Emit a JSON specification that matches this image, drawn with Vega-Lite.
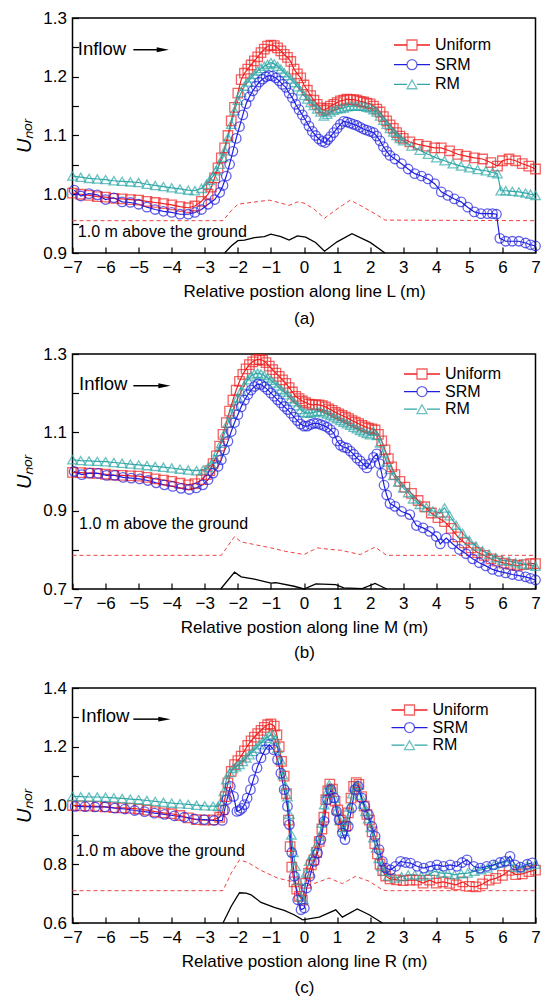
{
"$schema": "https://vega.github.io/schema/vega-lite/v6.json",
"padding": {"top": 8, "left": 13.5, "right": 1, "bottom": 2},
"spacing": 17,
"resolve": {"legend": {"color": "independent", "shape": "independent", "stroke": "independent"}},
"config": {
  "font": "Liberation Sans",
  "view": {"stroke": "black", "strokeWidth": 1.5},
  "axis": {"domain": false, "grid": false, "tickColor": "black", "tickSize": -6, "tickWidth": 1.2, "tickCount": 30, "labelFontSize": 17, "labelColor": "black", "titleFontSize": 17, "titleColor": "black", "titleFontWeight": "normal", "labelFont": "Liberation Sans", "titleFont": "Liberation Sans", "labelFlush": false, "labelOverlap": false},
  "axisY": {"titleFontSize": 20, "titleFontStyle": "italic", "titlePadding": 8, "labelPadding": 12},
  "axisX": {"labelPadding": 12, "titlePadding": 8, "titleLineHeight": 25}
},
"datasets": {
"series": [
{"p":"a","s":"Uniform","x":-7,"y":1.002},{"p":"a","s":"Uniform","x":-6.75,"y":1.0},{"p":"a","s":"Uniform","x":-6.5,"y":0.998},{"p":"a","s":"Uniform","x":-6.25,"y":0.996},{"p":"a","s":"Uniform","x":-6,"y":0.995},{"p":"a","s":"Uniform","x":-5.75,"y":0.993},{"p":"a","s":"Uniform","x":-5.5,"y":0.992},{"p":"a","s":"Uniform","x":-5.25,"y":0.991},{"p":"a","s":"Uniform","x":-5,"y":0.99},{"p":"a","s":"Uniform","x":-4.75,"y":0.988},{"p":"a","s":"Uniform","x":-4.5,"y":0.986},{"p":"a","s":"Uniform","x":-4.25,"y":0.984},{"p":"a","s":"Uniform","x":-4,"y":0.982},{"p":"a","s":"Uniform","x":-3.75,"y":0.979},{"p":"a","s":"Uniform","x":-3.5,"y":0.977},{"p":"a","s":"Uniform","x":-3.3,"y":0.98},{"p":"a","s":"Uniform","x":-3.1,"y":0.988},{"p":"a","s":"Uniform","x":-2.9,"y":1.0},{"p":"a","s":"Uniform","x":-2.8,"y":1.012},{"p":"a","s":"Uniform","x":-2.7,"y":1.028},{"p":"a","s":"Uniform","x":-2.6,"y":1.045},{"p":"a","s":"Uniform","x":-2.5,"y":1.062},{"p":"a","s":"Uniform","x":-2.4,"y":1.079},{"p":"a","s":"Uniform","x":-2.3,"y":1.1},{"p":"a","s":"Uniform","x":-2.2,"y":1.125},{"p":"a","s":"Uniform","x":-2.1,"y":1.148},{"p":"a","s":"Uniform","x":-2,"y":1.172},{"p":"a","s":"Uniform","x":-1.9,"y":1.195},{"p":"a","s":"Uniform","x":-1.8,"y":1.206},{"p":"a","s":"Uniform","x":-1.7,"y":1.213},{"p":"a","s":"Uniform","x":-1.6,"y":1.22},{"p":"a","s":"Uniform","x":-1.5,"y":1.227},{"p":"a","s":"Uniform","x":-1.4,"y":1.234},{"p":"a","s":"Uniform","x":-1.3,"y":1.241},{"p":"a","s":"Uniform","x":-1.2,"y":1.247},{"p":"a","s":"Uniform","x":-1.1,"y":1.252},{"p":"a","s":"Uniform","x":-1,"y":1.254},{"p":"a","s":"Uniform","x":-0.9,"y":1.253},{"p":"a","s":"Uniform","x":-0.8,"y":1.249},{"p":"a","s":"Uniform","x":-0.7,"y":1.244},{"p":"a","s":"Uniform","x":-0.6,"y":1.238},{"p":"a","s":"Uniform","x":-0.5,"y":1.233},{"p":"a","s":"Uniform","x":-0.4,"y":1.226},{"p":"a","s":"Uniform","x":-0.3,"y":1.213},{"p":"a","s":"Uniform","x":-0.2,"y":1.205},{"p":"a","s":"Uniform","x":-0.1,"y":1.198},{"p":"a","s":"Uniform","x":0,"y":1.186},{"p":"a","s":"Uniform","x":0.1,"y":1.177},{"p":"a","s":"Uniform","x":0.2,"y":1.168},{"p":"a","s":"Uniform","x":0.3,"y":1.16},{"p":"a","s":"Uniform","x":0.4,"y":1.153},{"p":"a","s":"Uniform","x":0.5,"y":1.147},{"p":"a","s":"Uniform","x":0.6,"y":1.143},{"p":"a","s":"Uniform","x":0.7,"y":1.146},{"p":"a","s":"Uniform","x":0.8,"y":1.15},{"p":"a","s":"Uniform","x":0.9,"y":1.153},{"p":"a","s":"Uniform","x":1,"y":1.156},{"p":"a","s":"Uniform","x":1.1,"y":1.159},{"p":"a","s":"Uniform","x":1.2,"y":1.16},{"p":"a","s":"Uniform","x":1.3,"y":1.162},{"p":"a","s":"Uniform","x":1.4,"y":1.161},{"p":"a","s":"Uniform","x":1.5,"y":1.161},{"p":"a","s":"Uniform","x":1.6,"y":1.16},{"p":"a","s":"Uniform","x":1.7,"y":1.158},{"p":"a","s":"Uniform","x":1.8,"y":1.157},{"p":"a","s":"Uniform","x":1.9,"y":1.155},{"p":"a","s":"Uniform","x":2,"y":1.154},{"p":"a","s":"Uniform","x":2.1,"y":1.15},{"p":"a","s":"Uniform","x":2.2,"y":1.145},{"p":"a","s":"Uniform","x":2.3,"y":1.14},{"p":"a","s":"Uniform","x":2.4,"y":1.132},{"p":"a","s":"Uniform","x":2.5,"y":1.125},{"p":"a","s":"Uniform","x":2.6,"y":1.118},{"p":"a","s":"Uniform","x":2.7,"y":1.112},{"p":"a","s":"Uniform","x":2.8,"y":1.105},{"p":"a","s":"Uniform","x":2.9,"y":1.099},{"p":"a","s":"Uniform","x":3,"y":1.095},{"p":"a","s":"Uniform","x":3.2,"y":1.089},{"p":"a","s":"Uniform","x":3.45,"y":1.085},{"p":"a","s":"Uniform","x":3.7,"y":1.082},{"p":"a","s":"Uniform","x":3.95,"y":1.079},{"p":"a","s":"Uniform","x":4.15,"y":1.079},{"p":"a","s":"Uniform","x":4.4,"y":1.074},{"p":"a","s":"Uniform","x":4.65,"y":1.068},{"p":"a","s":"Uniform","x":4.9,"y":1.065},{"p":"a","s":"Uniform","x":5.15,"y":1.062},{"p":"a","s":"Uniform","x":5.4,"y":1.06},{"p":"a","s":"Uniform","x":5.65,"y":1.054},{"p":"a","s":"Uniform","x":5.85,"y":1.048},{"p":"a","s":"Uniform","x":6,"y":1.057},{"p":"a","s":"Uniform","x":6.2,"y":1.06},{"p":"a","s":"Uniform","x":6.4,"y":1.057},{"p":"a","s":"Uniform","x":6.6,"y":1.052},{"p":"a","s":"Uniform","x":6.8,"y":1.048},{"p":"a","s":"Uniform","x":7,"y":1.043},
{"p":"a","s":"RM","x":-7,"y":1.031},{"p":"a","s":"RM","x":-6.75,"y":1.029},{"p":"a","s":"RM","x":-6.5,"y":1.027},{"p":"a","s":"RM","x":-6.25,"y":1.026},{"p":"a","s":"RM","x":-6,"y":1.025},{"p":"a","s":"RM","x":-5.75,"y":1.023},{"p":"a","s":"RM","x":-5.5,"y":1.022},{"p":"a","s":"RM","x":-5.25,"y":1.021},{"p":"a","s":"RM","x":-5,"y":1.02},{"p":"a","s":"RM","x":-4.75,"y":1.017},{"p":"a","s":"RM","x":-4.5,"y":1.015},{"p":"a","s":"RM","x":-4.25,"y":1.013},{"p":"a","s":"RM","x":-4,"y":1.011},{"p":"a","s":"RM","x":-3.75,"y":1.009},{"p":"a","s":"RM","x":-3.5,"y":1.007},{"p":"a","s":"RM","x":-3.3,"y":1.006},{"p":"a","s":"RM","x":-3.1,"y":1.01},{"p":"a","s":"RM","x":-2.95,"y":1.017},{"p":"a","s":"RM","x":-2.85,"y":1.024},{"p":"a","s":"RM","x":-2.75,"y":1.031},{"p":"a","s":"RM","x":-2.65,"y":1.04},{"p":"a","s":"RM","x":-2.55,"y":1.051},{"p":"a","s":"RM","x":-2.45,"y":1.063},{"p":"a","s":"RM","x":-2.4,"y":1.074},{"p":"a","s":"RM","x":-2.3,"y":1.096},{"p":"a","s":"RM","x":-2.2,"y":1.119},{"p":"a","s":"RM","x":-2.1,"y":1.142},{"p":"a","s":"RM","x":-2,"y":1.16},{"p":"a","s":"RM","x":-1.9,"y":1.173},{"p":"a","s":"RM","x":-1.8,"y":1.184},{"p":"a","s":"RM","x":-1.7,"y":1.191},{"p":"a","s":"RM","x":-1.6,"y":1.198},{"p":"a","s":"RM","x":-1.5,"y":1.204},{"p":"a","s":"RM","x":-1.4,"y":1.21},{"p":"a","s":"RM","x":-1.3,"y":1.214},{"p":"a","s":"RM","x":-1.2,"y":1.218},{"p":"a","s":"RM","x":-1.1,"y":1.221},{"p":"a","s":"RM","x":-1,"y":1.224},{"p":"a","s":"RM","x":-0.9,"y":1.222},{"p":"a","s":"RM","x":-0.8,"y":1.218},{"p":"a","s":"RM","x":-0.7,"y":1.213},{"p":"a","s":"RM","x":-0.6,"y":1.207},{"p":"a","s":"RM","x":-0.5,"y":1.202},{"p":"a","s":"RM","x":-0.4,"y":1.196},{"p":"a","s":"RM","x":-0.3,"y":1.19},{"p":"a","s":"RM","x":-0.2,"y":1.183},{"p":"a","s":"RM","x":-0.1,"y":1.176},{"p":"a","s":"RM","x":0,"y":1.168},{"p":"a","s":"RM","x":0.1,"y":1.162},{"p":"a","s":"RM","x":0.2,"y":1.156},{"p":"a","s":"RM","x":0.3,"y":1.151},{"p":"a","s":"RM","x":0.4,"y":1.145},{"p":"a","s":"RM","x":0.5,"y":1.14},{"p":"a","s":"RM","x":0.6,"y":1.133},{"p":"a","s":"RM","x":0.7,"y":1.136},{"p":"a","s":"RM","x":0.8,"y":1.14},{"p":"a","s":"RM","x":0.9,"y":1.143},{"p":"a","s":"RM","x":1,"y":1.145},{"p":"a","s":"RM","x":1.1,"y":1.146},{"p":"a","s":"RM","x":1.2,"y":1.147},{"p":"a","s":"RM","x":1.3,"y":1.149},{"p":"a","s":"RM","x":1.4,"y":1.15},{"p":"a","s":"RM","x":1.5,"y":1.15},{"p":"a","s":"RM","x":1.6,"y":1.15},{"p":"a","s":"RM","x":1.7,"y":1.15},{"p":"a","s":"RM","x":1.8,"y":1.15},{"p":"a","s":"RM","x":1.9,"y":1.148},{"p":"a","s":"RM","x":2,"y":1.147},{"p":"a","s":"RM","x":2.1,"y":1.144},{"p":"a","s":"RM","x":2.2,"y":1.14},{"p":"a","s":"RM","x":2.3,"y":1.133},{"p":"a","s":"RM","x":2.4,"y":1.126},{"p":"a","s":"RM","x":2.5,"y":1.119},{"p":"a","s":"RM","x":2.6,"y":1.112},{"p":"a","s":"RM","x":2.7,"y":1.106},{"p":"a","s":"RM","x":2.8,"y":1.1},{"p":"a","s":"RM","x":2.9,"y":1.095},{"p":"a","s":"RM","x":3,"y":1.091},{"p":"a","s":"RM","x":3.25,"y":1.082},{"p":"a","s":"RM","x":3.5,"y":1.075},{"p":"a","s":"RM","x":3.75,"y":1.068},{"p":"a","s":"RM","x":4,"y":1.062},{"p":"a","s":"RM","x":4.25,"y":1.057},{"p":"a","s":"RM","x":4.5,"y":1.052},{"p":"a","s":"RM","x":4.75,"y":1.048},{"p":"a","s":"RM","x":5,"y":1.045},{"p":"a","s":"RM","x":5.25,"y":1.042},{"p":"a","s":"RM","x":5.5,"y":1.04},{"p":"a","s":"RM","x":5.7,"y":1.037},{"p":"a","s":"RM","x":5.85,"y":1.035},{"p":"a","s":"RM","x":5.95,"y":1.006},{"p":"a","s":"RM","x":6.1,"y":1.006},{"p":"a","s":"RM","x":6.3,"y":1.005},{"p":"a","s":"RM","x":6.5,"y":1.004},{"p":"a","s":"RM","x":6.7,"y":1.002},{"p":"a","s":"RM","x":6.85,"y":1.0},{"p":"a","s":"RM","x":7,"y":0.998},
{"p":"a","s":"SRM","x":-6.95,"y":1.007},{"p":"a","s":"SRM","x":-6.75,"y":0.997},{"p":"a","s":"SRM","x":-6.5,"y":1.001},{"p":"a","s":"SRM","x":-6.25,"y":0.999},{"p":"a","s":"SRM","x":-6,"y":0.991},{"p":"a","s":"SRM","x":-5.75,"y":0.994},{"p":"a","s":"SRM","x":-5.5,"y":0.987},{"p":"a","s":"SRM","x":-5.25,"y":0.986},{"p":"a","s":"SRM","x":-5,"y":0.983},{"p":"a","s":"SRM","x":-4.75,"y":0.978},{"p":"a","s":"SRM","x":-4.5,"y":0.974},{"p":"a","s":"SRM","x":-4.25,"y":0.971},{"p":"a","s":"SRM","x":-4,"y":0.969},{"p":"a","s":"SRM","x":-3.75,"y":0.966},{"p":"a","s":"SRM","x":-3.5,"y":0.966},{"p":"a","s":"SRM","x":-3.3,"y":0.969},{"p":"a","s":"SRM","x":-3.1,"y":0.974},{"p":"a","s":"SRM","x":-2.9,"y":0.983},{"p":"a","s":"SRM","x":-2.7,"y":0.991},{"p":"a","s":"SRM","x":-2.55,"y":1.003},{"p":"a","s":"SRM","x":-2.45,"y":1.015},{"p":"a","s":"SRM","x":-2.35,"y":1.031},{"p":"a","s":"SRM","x":-2.25,"y":1.051},{"p":"a","s":"SRM","x":-2.15,"y":1.073},{"p":"a","s":"SRM","x":-2.05,"y":1.095},{"p":"a","s":"SRM","x":-1.95,"y":1.115},{"p":"a","s":"SRM","x":-1.85,"y":1.135},{"p":"a","s":"SRM","x":-1.75,"y":1.154},{"p":"a","s":"SRM","x":-1.65,"y":1.166},{"p":"a","s":"SRM","x":-1.55,"y":1.176},{"p":"a","s":"SRM","x":-1.45,"y":1.184},{"p":"a","s":"SRM","x":-1.35,"y":1.191},{"p":"a","s":"SRM","x":-1.25,"y":1.196},{"p":"a","s":"SRM","x":-1.15,"y":1.2},{"p":"a","s":"SRM","x":-1.05,"y":1.202},{"p":"a","s":"SRM","x":-0.95,"y":1.201},{"p":"a","s":"SRM","x":-0.85,"y":1.198},{"p":"a","s":"SRM","x":-0.75,"y":1.193},{"p":"a","s":"SRM","x":-0.65,"y":1.187},{"p":"a","s":"SRM","x":-0.55,"y":1.182},{"p":"a","s":"SRM","x":-0.45,"y":1.172},{"p":"a","s":"SRM","x":-0.35,"y":1.164},{"p":"a","s":"SRM","x":-0.25,"y":1.153},{"p":"a","s":"SRM","x":-0.15,"y":1.144},{"p":"a","s":"SRM","x":-0.05,"y":1.135},{"p":"a","s":"SRM","x":0.05,"y":1.126},{"p":"a","s":"SRM","x":0.15,"y":1.116},{"p":"a","s":"SRM","x":0.25,"y":1.107},{"p":"a","s":"SRM","x":0.35,"y":1.1},{"p":"a","s":"SRM","x":0.45,"y":1.094},{"p":"a","s":"SRM","x":0.55,"y":1.09},{"p":"a","s":"SRM","x":0.64,"y":1.088},{"p":"a","s":"SRM","x":0.72,"y":1.093},{"p":"a","s":"SRM","x":0.8,"y":1.098},{"p":"a","s":"SRM","x":0.9,"y":1.105},{"p":"a","s":"SRM","x":1,"y":1.112},{"p":"a","s":"SRM","x":1.1,"y":1.119},{"p":"a","s":"SRM","x":1.2,"y":1.124},{"p":"a","s":"SRM","x":1.3,"y":1.123},{"p":"a","s":"SRM","x":1.4,"y":1.121},{"p":"a","s":"SRM","x":1.5,"y":1.119},{"p":"a","s":"SRM","x":1.6,"y":1.117},{"p":"a","s":"SRM","x":1.7,"y":1.114},{"p":"a","s":"SRM","x":1.8,"y":1.111},{"p":"a","s":"SRM","x":1.9,"y":1.109},{"p":"a","s":"SRM","x":2,"y":1.107},{"p":"a","s":"SRM","x":2.1,"y":1.105},{"p":"a","s":"SRM","x":2.2,"y":1.099},{"p":"a","s":"SRM","x":2.3,"y":1.091},{"p":"a","s":"SRM","x":2.4,"y":1.081},{"p":"a","s":"SRM","x":2.5,"y":1.073},{"p":"a","s":"SRM","x":2.6,"y":1.066},{"p":"a","s":"SRM","x":2.75,"y":1.06},{"p":"a","s":"SRM","x":2.95,"y":1.052},{"p":"a","s":"SRM","x":3.15,"y":1.043},{"p":"a","s":"SRM","x":3.35,"y":1.035},{"p":"a","s":"SRM","x":3.55,"y":1.031},{"p":"a","s":"SRM","x":3.75,"y":1.026},{"p":"a","s":"SRM","x":3.95,"y":1.018},{"p":"a","s":"SRM","x":4.15,"y":1.004},{"p":"a","s":"SRM","x":4.35,"y":0.998},{"p":"a","s":"SRM","x":4.55,"y":0.992},{"p":"a","s":"SRM","x":4.75,"y":0.987},{"p":"a","s":"SRM","x":4.95,"y":0.978},{"p":"a","s":"SRM","x":5.15,"y":0.97},{"p":"a","s":"SRM","x":5.35,"y":0.967},{"p":"a","s":"SRM","x":5.55,"y":0.967},{"p":"a","s":"SRM","x":5.7,"y":0.967},{"p":"a","s":"SRM","x":5.82,"y":0.966},{"p":"a","s":"SRM","x":5.92,"y":0.925},{"p":"a","s":"SRM","x":6.1,"y":0.92},{"p":"a","s":"SRM","x":6.3,"y":0.92},{"p":"a","s":"SRM","x":6.5,"y":0.92},{"p":"a","s":"SRM","x":6.7,"y":0.917},{"p":"a","s":"SRM","x":6.85,"y":0.914},{"p":"a","s":"SRM","x":7,"y":0.912},
{"p":"b","s":"Uniform","x":-7,"y":0.998},{"p":"b","s":"Uniform","x":-6.75,"y":0.997},{"p":"b","s":"Uniform","x":-6.5,"y":0.996},{"p":"b","s":"Uniform","x":-6.25,"y":0.995},{"p":"b","s":"Uniform","x":-6,"y":0.993},{"p":"b","s":"Uniform","x":-5.75,"y":0.991},{"p":"b","s":"Uniform","x":-5.5,"y":0.99},{"p":"b","s":"Uniform","x":-5.25,"y":0.989},{"p":"b","s":"Uniform","x":-5,"y":0.988},{"p":"b","s":"Uniform","x":-4.75,"y":0.985},{"p":"b","s":"Uniform","x":-4.5,"y":0.981},{"p":"b","s":"Uniform","x":-4.25,"y":0.978},{"p":"b","s":"Uniform","x":-4,"y":0.975},{"p":"b","s":"Uniform","x":-3.75,"y":0.97},{"p":"b","s":"Uniform","x":-3.5,"y":0.966},{"p":"b","s":"Uniform","x":-3.3,"y":0.969},{"p":"b","s":"Uniform","x":-3.1,"y":0.979},{"p":"b","s":"Uniform","x":-2.95,"y":0.992},{"p":"b","s":"Uniform","x":-2.85,"y":1.002},{"p":"b","s":"Uniform","x":-2.75,"y":1.02},{"p":"b","s":"Uniform","x":-2.65,"y":1.04},{"p":"b","s":"Uniform","x":-2.55,"y":1.065},{"p":"b","s":"Uniform","x":-2.45,"y":1.095},{"p":"b","s":"Uniform","x":-2.35,"y":1.125},{"p":"b","s":"Uniform","x":-2.25,"y":1.154},{"p":"b","s":"Uniform","x":-2.15,"y":1.182},{"p":"b","s":"Uniform","x":-2.05,"y":1.208},{"p":"b","s":"Uniform","x":-1.95,"y":1.23},{"p":"b","s":"Uniform","x":-1.85,"y":1.248},{"p":"b","s":"Uniform","x":-1.75,"y":1.262},{"p":"b","s":"Uniform","x":-1.65,"y":1.273},{"p":"b","s":"Uniform","x":-1.55,"y":1.28},{"p":"b","s":"Uniform","x":-1.45,"y":1.285},{"p":"b","s":"Uniform","x":-1.35,"y":1.286},{"p":"b","s":"Uniform","x":-1.25,"y":1.284},{"p":"b","s":"Uniform","x":-1.15,"y":1.278},{"p":"b","s":"Uniform","x":-1.05,"y":1.269},{"p":"b","s":"Uniform","x":-0.95,"y":1.26},{"p":"b","s":"Uniform","x":-0.85,"y":1.251},{"p":"b","s":"Uniform","x":-0.75,"y":1.243},{"p":"b","s":"Uniform","x":-0.65,"y":1.234},{"p":"b","s":"Uniform","x":-0.55,"y":1.225},{"p":"b","s":"Uniform","x":-0.45,"y":1.214},{"p":"b","s":"Uniform","x":-0.35,"y":1.203},{"p":"b","s":"Uniform","x":-0.25,"y":1.192},{"p":"b","s":"Uniform","x":-0.15,"y":1.186},{"p":"b","s":"Uniform","x":-0.05,"y":1.18},{"p":"b","s":"Uniform","x":0.05,"y":1.176},{"p":"b","s":"Uniform","x":0.15,"y":1.172},{"p":"b","s":"Uniform","x":0.25,"y":1.17},{"p":"b","s":"Uniform","x":0.35,"y":1.171},{"p":"b","s":"Uniform","x":0.45,"y":1.17},{"p":"b","s":"Uniform","x":0.55,"y":1.168},{"p":"b","s":"Uniform","x":0.65,"y":1.165},{"p":"b","s":"Uniform","x":0.75,"y":1.16},{"p":"b","s":"Uniform","x":0.85,"y":1.156},{"p":"b","s":"Uniform","x":0.95,"y":1.151},{"p":"b","s":"Uniform","x":1.05,"y":1.147},{"p":"b","s":"Uniform","x":1.15,"y":1.143},{"p":"b","s":"Uniform","x":1.25,"y":1.139},{"p":"b","s":"Uniform","x":1.35,"y":1.135},{"p":"b","s":"Uniform","x":1.45,"y":1.13},{"p":"b","s":"Uniform","x":1.55,"y":1.126},{"p":"b","s":"Uniform","x":1.65,"y":1.122},{"p":"b","s":"Uniform","x":1.75,"y":1.118},{"p":"b","s":"Uniform","x":1.85,"y":1.114},{"p":"b","s":"Uniform","x":1.95,"y":1.111},{"p":"b","s":"Uniform","x":2.05,"y":1.109},{"p":"b","s":"Uniform","x":2.15,"y":1.106},{"p":"b","s":"Uniform","x":2.25,"y":1.095},{"p":"b","s":"Uniform","x":2.35,"y":1.078},{"p":"b","s":"Uniform","x":2.45,"y":1.055},{"p":"b","s":"Uniform","x":2.55,"y":1.033},{"p":"b","s":"Uniform","x":2.65,"y":1.012},{"p":"b","s":"Uniform","x":2.75,"y":0.992},{"p":"b","s":"Uniform","x":2.9,"y":0.975},{"p":"b","s":"Uniform","x":3.05,"y":0.96},{"p":"b","s":"Uniform","x":3.25,"y":0.944},{"p":"b","s":"Uniform","x":3.45,"y":0.926},{"p":"b","s":"Uniform","x":3.65,"y":0.91},{"p":"b","s":"Uniform","x":3.85,"y":0.894},{"p":"b","s":"Uniform","x":4.05,"y":0.882},{"p":"b","s":"Uniform","x":4.25,"y":0.872},{"p":"b","s":"Uniform","x":4.45,"y":0.855},{"p":"b","s":"Uniform","x":4.65,"y":0.833},{"p":"b","s":"Uniform","x":4.85,"y":0.818},{"p":"b","s":"Uniform","x":5.05,"y":0.805},{"p":"b","s":"Uniform","x":5.25,"y":0.793},{"p":"b","s":"Uniform","x":5.45,"y":0.786},{"p":"b","s":"Uniform","x":5.65,"y":0.777},{"p":"b","s":"Uniform","x":5.85,"y":0.771},{"p":"b","s":"Uniform","x":6.05,"y":0.766},{"p":"b","s":"Uniform","x":6.25,"y":0.763},{"p":"b","s":"Uniform","x":6.45,"y":0.76},{"p":"b","s":"Uniform","x":6.65,"y":0.762},{"p":"b","s":"Uniform","x":6.85,"y":0.765},{"p":"b","s":"Uniform","x":7,"y":0.765},
{"p":"b","s":"RM","x":-7,"y":1.03},{"p":"b","s":"RM","x":-6.75,"y":1.028},{"p":"b","s":"RM","x":-6.5,"y":1.027},{"p":"b","s":"RM","x":-6.25,"y":1.026},{"p":"b","s":"RM","x":-6,"y":1.025},{"p":"b","s":"RM","x":-5.75,"y":1.023},{"p":"b","s":"RM","x":-5.5,"y":1.021},{"p":"b","s":"RM","x":-5.25,"y":1.019},{"p":"b","s":"RM","x":-5,"y":1.017},{"p":"b","s":"RM","x":-4.75,"y":1.015},{"p":"b","s":"RM","x":-4.5,"y":1.013},{"p":"b","s":"RM","x":-4.25,"y":1.011},{"p":"b","s":"RM","x":-4,"y":1.009},{"p":"b","s":"RM","x":-3.75,"y":1.006},{"p":"b","s":"RM","x":-3.5,"y":1.004},{"p":"b","s":"RM","x":-3.25,"y":1.002},{"p":"b","s":"RM","x":-3.05,"y":1.004},{"p":"b","s":"RM","x":-2.9,"y":1.01},{"p":"b","s":"RM","x":-2.8,"y":1.018},{"p":"b","s":"RM","x":-2.7,"y":1.032},{"p":"b","s":"RM","x":-2.6,"y":1.051},{"p":"b","s":"RM","x":-2.5,"y":1.072},{"p":"b","s":"RM","x":-2.4,"y":1.098},{"p":"b","s":"RM","x":-2.3,"y":1.124},{"p":"b","s":"RM","x":-2.2,"y":1.147},{"p":"b","s":"RM","x":-2.1,"y":1.168},{"p":"b","s":"RM","x":-2,"y":1.188},{"p":"b","s":"RM","x":-1.9,"y":1.205},{"p":"b","s":"RM","x":-1.8,"y":1.22},{"p":"b","s":"RM","x":-1.7,"y":1.234},{"p":"b","s":"RM","x":-1.6,"y":1.244},{"p":"b","s":"RM","x":-1.5,"y":1.249},{"p":"b","s":"RM","x":-1.4,"y":1.251},{"p":"b","s":"RM","x":-1.3,"y":1.249},{"p":"b","s":"RM","x":-1.2,"y":1.245},{"p":"b","s":"RM","x":-1.1,"y":1.239},{"p":"b","s":"RM","x":-1,"y":1.233},{"p":"b","s":"RM","x":-0.9,"y":1.226},{"p":"b","s":"RM","x":-0.8,"y":1.218},{"p":"b","s":"RM","x":-0.7,"y":1.209},{"p":"b","s":"RM","x":-0.6,"y":1.203},{"p":"b","s":"RM","x":-0.5,"y":1.196},{"p":"b","s":"RM","x":-0.4,"y":1.186},{"p":"b","s":"RM","x":-0.3,"y":1.178},{"p":"b","s":"RM","x":-0.2,"y":1.168},{"p":"b","s":"RM","x":-0.1,"y":1.158},{"p":"b","s":"RM","x":0,"y":1.151},{"p":"b","s":"RM","x":0.1,"y":1.149},{"p":"b","s":"RM","x":0.2,"y":1.149},{"p":"b","s":"RM","x":0.3,"y":1.151},{"p":"b","s":"RM","x":0.4,"y":1.154},{"p":"b","s":"RM","x":0.5,"y":1.153},{"p":"b","s":"RM","x":0.6,"y":1.15},{"p":"b","s":"RM","x":0.7,"y":1.147},{"p":"b","s":"RM","x":0.8,"y":1.143},{"p":"b","s":"RM","x":0.9,"y":1.139},{"p":"b","s":"RM","x":1,"y":1.135},{"p":"b","s":"RM","x":1.1,"y":1.13},{"p":"b","s":"RM","x":1.2,"y":1.126},{"p":"b","s":"RM","x":1.3,"y":1.122},{"p":"b","s":"RM","x":1.4,"y":1.118},{"p":"b","s":"RM","x":1.5,"y":1.113},{"p":"b","s":"RM","x":1.6,"y":1.109},{"p":"b","s":"RM","x":1.7,"y":1.105},{"p":"b","s":"RM","x":1.8,"y":1.101},{"p":"b","s":"RM","x":1.9,"y":1.097},{"p":"b","s":"RM","x":2,"y":1.094},{"p":"b","s":"RM","x":2.1,"y":1.103},{"p":"b","s":"RM","x":2.2,"y":1.092},{"p":"b","s":"RM","x":2.3,"y":1.073},{"p":"b","s":"RM","x":2.4,"y":1.048},{"p":"b","s":"RM","x":2.5,"y":1.024},{"p":"b","s":"RM","x":2.6,"y":1.005},{"p":"b","s":"RM","x":2.7,"y":0.99},{"p":"b","s":"RM","x":2.85,"y":0.973},{"p":"b","s":"RM","x":3,"y":0.958},{"p":"b","s":"RM","x":3.15,"y":0.946},{"p":"b","s":"RM","x":3.3,"y":0.93},{"p":"b","s":"RM","x":3.5,"y":0.916},{"p":"b","s":"RM","x":3.7,"y":0.908},{"p":"b","s":"RM","x":3.9,"y":0.899},{"p":"b","s":"RM","x":4.1,"y":0.894},{"p":"b","s":"RM","x":4.25,"y":0.907},{"p":"b","s":"RM","x":4.4,"y":0.887},{"p":"b","s":"RM","x":4.6,"y":0.863},{"p":"b","s":"RM","x":4.8,"y":0.842},{"p":"b","s":"RM","x":5,"y":0.824},{"p":"b","s":"RM","x":5.2,"y":0.81},{"p":"b","s":"RM","x":5.4,"y":0.797},{"p":"b","s":"RM","x":5.6,"y":0.789},{"p":"b","s":"RM","x":5.8,"y":0.78},{"p":"b","s":"RM","x":6,"y":0.773},{"p":"b","s":"RM","x":6.2,"y":0.771},{"p":"b","s":"RM","x":6.4,"y":0.767},{"p":"b","s":"RM","x":6.6,"y":0.764},{"p":"b","s":"RM","x":6.8,"y":0.761},{"p":"b","s":"RM","x":7,"y":0.758},
{"p":"b","s":"SRM","x":-6.95,"y":1.0},{"p":"b","s":"SRM","x":-6.72,"y":0.992},{"p":"b","s":"SRM","x":-6.47,"y":0.996},{"p":"b","s":"SRM","x":-6.22,"y":0.995},{"p":"b","s":"SRM","x":-5.97,"y":0.99},{"p":"b","s":"SRM","x":-5.72,"y":0.99},{"p":"b","s":"SRM","x":-5.47,"y":0.985},{"p":"b","s":"SRM","x":-5.22,"y":0.983},{"p":"b","s":"SRM","x":-4.97,"y":0.981},{"p":"b","s":"SRM","x":-4.72,"y":0.977},{"p":"b","s":"SRM","x":-4.47,"y":0.971},{"p":"b","s":"SRM","x":-4.22,"y":0.966},{"p":"b","s":"SRM","x":-3.97,"y":0.962},{"p":"b","s":"SRM","x":-3.72,"y":0.957},{"p":"b","s":"SRM","x":-3.47,"y":0.954},{"p":"b","s":"SRM","x":-3.26,"y":0.958},{"p":"b","s":"SRM","x":-3.06,"y":0.966},{"p":"b","s":"SRM","x":-2.9,"y":0.979},{"p":"b","s":"SRM","x":-2.75,"y":0.996},{"p":"b","s":"SRM","x":-2.6,"y":1.013},{"p":"b","s":"SRM","x":-2.5,"y":1.03},{"p":"b","s":"SRM","x":-2.4,"y":1.055},{"p":"b","s":"SRM","x":-2.3,"y":1.077},{"p":"b","s":"SRM","x":-2.2,"y":1.102},{"p":"b","s":"SRM","x":-2.1,"y":1.125},{"p":"b","s":"SRM","x":-2,"y":1.145},{"p":"b","s":"SRM","x":-1.9,"y":1.165},{"p":"b","s":"SRM","x":-1.8,"y":1.182},{"p":"b","s":"SRM","x":-1.7,"y":1.196},{"p":"b","s":"SRM","x":-1.6,"y":1.208},{"p":"b","s":"SRM","x":-1.5,"y":1.217},{"p":"b","s":"SRM","x":-1.4,"y":1.223},{"p":"b","s":"SRM","x":-1.3,"y":1.222},{"p":"b","s":"SRM","x":-1.2,"y":1.216},{"p":"b","s":"SRM","x":-1.1,"y":1.209},{"p":"b","s":"SRM","x":-1,"y":1.2},{"p":"b","s":"SRM","x":-0.9,"y":1.192},{"p":"b","s":"SRM","x":-0.8,"y":1.183},{"p":"b","s":"SRM","x":-0.7,"y":1.175},{"p":"b","s":"SRM","x":-0.6,"y":1.166},{"p":"b","s":"SRM","x":-0.5,"y":1.158},{"p":"b","s":"SRM","x":-0.4,"y":1.149},{"p":"b","s":"SRM","x":-0.3,"y":1.139},{"p":"b","s":"SRM","x":-0.2,"y":1.13},{"p":"b","s":"SRM","x":-0.1,"y":1.121},{"p":"b","s":"SRM","x":0,"y":1.116},{"p":"b","s":"SRM","x":0.1,"y":1.116},{"p":"b","s":"SRM","x":0.2,"y":1.12},{"p":"b","s":"SRM","x":0.3,"y":1.123},{"p":"b","s":"SRM","x":0.4,"y":1.123},{"p":"b","s":"SRM","x":0.5,"y":1.12},{"p":"b","s":"SRM","x":0.6,"y":1.117},{"p":"b","s":"SRM","x":0.7,"y":1.113},{"p":"b","s":"SRM","x":0.8,"y":1.107},{"p":"b","s":"SRM","x":0.9,"y":1.098},{"p":"b","s":"SRM","x":1,"y":1.078},{"p":"b","s":"SRM","x":1.1,"y":1.067},{"p":"b","s":"SRM","x":1.2,"y":1.062},{"p":"b","s":"SRM","x":1.3,"y":1.06},{"p":"b","s":"SRM","x":1.4,"y":1.052},{"p":"b","s":"SRM","x":1.5,"y":1.044},{"p":"b","s":"SRM","x":1.6,"y":1.034},{"p":"b","s":"SRM","x":1.7,"y":1.027},{"p":"b","s":"SRM","x":1.8,"y":1.018},{"p":"b","s":"SRM","x":1.9,"y":1.009},{"p":"b","s":"SRM","x":2,"y":1.02},{"p":"b","s":"SRM","x":2.1,"y":1.036},{"p":"b","s":"SRM","x":2.2,"y":1.045},{"p":"b","s":"SRM","x":2.28,"y":1.02},{"p":"b","s":"SRM","x":2.35,"y":0.995},{"p":"b","s":"SRM","x":2.42,"y":0.965},{"p":"b","s":"SRM","x":2.5,"y":0.94},{"p":"b","s":"SRM","x":2.6,"y":0.918},{"p":"b","s":"SRM","x":2.75,"y":0.911},{"p":"b","s":"SRM","x":2.95,"y":0.898},{"p":"b","s":"SRM","x":3.2,"y":0.89},{"p":"b","s":"SRM","x":3.4,"y":0.862},{"p":"b","s":"SRM","x":3.6,"y":0.856},{"p":"b","s":"SRM","x":3.8,"y":0.847},{"p":"b","s":"SRM","x":4,"y":0.834},{"p":"b","s":"SRM","x":4.12,"y":0.815},{"p":"b","s":"SRM","x":4.3,"y":0.83},{"p":"b","s":"SRM","x":4.5,"y":0.815},{"p":"b","s":"SRM","x":4.7,"y":0.801},{"p":"b","s":"SRM","x":4.9,"y":0.79},{"p":"b","s":"SRM","x":5.1,"y":0.777},{"p":"b","s":"SRM","x":5.3,"y":0.767},{"p":"b","s":"SRM","x":5.5,"y":0.759},{"p":"b","s":"SRM","x":5.7,"y":0.75},{"p":"b","s":"SRM","x":5.9,"y":0.745},{"p":"b","s":"SRM","x":6.1,"y":0.741},{"p":"b","s":"SRM","x":6.3,"y":0.737},{"p":"b","s":"SRM","x":6.5,"y":0.734},{"p":"b","s":"SRM","x":6.7,"y":0.731},{"p":"b","s":"SRM","x":6.85,"y":0.727},{"p":"b","s":"SRM","x":7,"y":0.723},
{"p":"c","s":"Uniform","x":-7,"y":1.0},{"p":"c","s":"Uniform","x":-6.75,"y":0.999},{"p":"c","s":"Uniform","x":-6.5,"y":0.998},{"p":"c","s":"Uniform","x":-6.25,"y":0.997},{"p":"c","s":"Uniform","x":-6,"y":0.995},{"p":"c","s":"Uniform","x":-5.75,"y":0.993},{"p":"c","s":"Uniform","x":-5.5,"y":0.992},{"p":"c","s":"Uniform","x":-5.25,"y":0.99},{"p":"c","s":"Uniform","x":-5,"y":0.988},{"p":"c","s":"Uniform","x":-4.75,"y":0.984},{"p":"c","s":"Uniform","x":-4.5,"y":0.979},{"p":"c","s":"Uniform","x":-4.25,"y":0.975},{"p":"c","s":"Uniform","x":-4,"y":0.972},{"p":"c","s":"Uniform","x":-3.75,"y":0.966},{"p":"c","s":"Uniform","x":-3.5,"y":0.958},{"p":"c","s":"Uniform","x":-3.25,"y":0.952},{"p":"c","s":"Uniform","x":-3,"y":0.95},{"p":"c","s":"Uniform","x":-2.75,"y":0.951},{"p":"c","s":"Uniform","x":-2.55,"y":0.96},{"p":"c","s":"Uniform","x":-2.45,"y":0.985},{"p":"c","s":"Uniform","x":-2.38,"y":1.03},{"p":"c","s":"Uniform","x":-2.3,"y":1.077},{"p":"c","s":"Uniform","x":-2.2,"y":1.116},{"p":"c","s":"Uniform","x":-2.1,"y":1.139},{"p":"c","s":"Uniform","x":-2,"y":1.153},{"p":"c","s":"Uniform","x":-1.9,"y":1.168},{"p":"c","s":"Uniform","x":-1.8,"y":1.186},{"p":"c","s":"Uniform","x":-1.7,"y":1.205},{"p":"c","s":"Uniform","x":-1.6,"y":1.22},{"p":"c","s":"Uniform","x":-1.5,"y":1.233},{"p":"c","s":"Uniform","x":-1.4,"y":1.245},{"p":"c","s":"Uniform","x":-1.3,"y":1.256},{"p":"c","s":"Uniform","x":-1.2,"y":1.266},{"p":"c","s":"Uniform","x":-1.1,"y":1.275},{"p":"c","s":"Uniform","x":-1,"y":1.278},{"p":"c","s":"Uniform","x":-0.9,"y":1.27},{"p":"c","s":"Uniform","x":-0.82,"y":1.24},{"p":"c","s":"Uniform","x":-0.75,"y":1.2},{"p":"c","s":"Uniform","x":-0.68,"y":1.15},{"p":"c","s":"Uniform","x":-0.6,"y":1.1},{"p":"c","s":"Uniform","x":-0.53,"y":1.04},{"p":"c","s":"Uniform","x":-0.47,"y":0.95},{"p":"c","s":"Uniform","x":-0.42,"y":0.86},{"p":"c","s":"Uniform","x":-0.37,"y":0.79},{"p":"c","s":"Uniform","x":-0.3,"y":0.74},{"p":"c","s":"Uniform","x":-0.22,"y":0.715},{"p":"c","s":"Uniform","x":-0.14,"y":0.691},{"p":"c","s":"Uniform","x":-0.05,"y":0.678},{"p":"c","s":"Uniform","x":0.05,"y":0.735},{"p":"c","s":"Uniform","x":0.14,"y":0.77},{"p":"c","s":"Uniform","x":0.22,"y":0.798},{"p":"c","s":"Uniform","x":0.3,"y":0.815},{"p":"c","s":"Uniform","x":0.38,"y":0.84},{"p":"c","s":"Uniform","x":0.46,"y":0.878},{"p":"c","s":"Uniform","x":0.54,"y":0.92},{"p":"c","s":"Uniform","x":0.6,"y":0.96},{"p":"c","s":"Uniform","x":0.66,"y":1.02},{"p":"c","s":"Uniform","x":0.72,"y":1.05},{"p":"c","s":"Uniform","x":0.78,"y":1.073},{"p":"c","s":"Uniform","x":0.86,"y":1.056},{"p":"c","s":"Uniform","x":0.94,"y":1.015},{"p":"c","s":"Uniform","x":1.02,"y":0.985},{"p":"c","s":"Uniform","x":1.1,"y":0.95},{"p":"c","s":"Uniform","x":1.18,"y":0.928},{"p":"c","s":"Uniform","x":1.26,"y":0.93},{"p":"c","s":"Uniform","x":1.34,"y":0.975},{"p":"c","s":"Uniform","x":1.42,"y":1.025},{"p":"c","s":"Uniform","x":1.5,"y":1.065},{"p":"c","s":"Uniform","x":1.58,"y":1.078},{"p":"c","s":"Uniform","x":1.66,"y":1.072},{"p":"c","s":"Uniform","x":1.74,"y":1.03},{"p":"c","s":"Uniform","x":1.82,"y":0.998},{"p":"c","s":"Uniform","x":1.9,"y":0.97},{"p":"c","s":"Uniform","x":1.98,"y":0.95},{"p":"c","s":"Uniform","x":2.06,"y":0.91},{"p":"c","s":"Uniform","x":2.14,"y":0.87},{"p":"c","s":"Uniform","x":2.22,"y":0.835},{"p":"c","s":"Uniform","x":2.3,"y":0.8},{"p":"c","s":"Uniform","x":2.38,"y":0.778},{"p":"c","s":"Uniform","x":2.47,"y":0.76},{"p":"c","s":"Uniform","x":2.6,"y":0.75},{"p":"c","s":"Uniform","x":2.8,"y":0.747},{"p":"c","s":"Uniform","x":3,"y":0.744},{"p":"c","s":"Uniform","x":3.2,"y":0.746},{"p":"c","s":"Uniform","x":3.4,"y":0.746},{"p":"c","s":"Uniform","x":3.6,"y":0.736},{"p":"c","s":"Uniform","x":3.8,"y":0.746},{"p":"c","s":"Uniform","x":4,"y":0.736},{"p":"c","s":"Uniform","x":4.2,"y":0.74},{"p":"c","s":"Uniform","x":4.4,"y":0.735},{"p":"c","s":"Uniform","x":4.6,"y":0.73},{"p":"c","s":"Uniform","x":4.8,"y":0.74},{"p":"c","s":"Uniform","x":5,"y":0.725},{"p":"c","s":"Uniform","x":5.2,"y":0.723},{"p":"c","s":"Uniform","x":5.4,"y":0.733},{"p":"c","s":"Uniform","x":5.6,"y":0.746},{"p":"c","s":"Uniform","x":5.8,"y":0.752},{"p":"c","s":"Uniform","x":6,"y":0.762},{"p":"c","s":"Uniform","x":6.2,"y":0.779},{"p":"c","s":"Uniform","x":6.4,"y":0.765},{"p":"c","s":"Uniform","x":6.6,"y":0.767},{"p":"c","s":"Uniform","x":6.8,"y":0.775},{"p":"c","s":"Uniform","x":7,"y":0.78},
{"p":"c","s":"RM","x":-7,"y":1.031},{"p":"c","s":"RM","x":-6.75,"y":1.03},{"p":"c","s":"RM","x":-6.5,"y":1.029},{"p":"c","s":"RM","x":-6.25,"y":1.029},{"p":"c","s":"RM","x":-6,"y":1.028},{"p":"c","s":"RM","x":-5.75,"y":1.026},{"p":"c","s":"RM","x":-5.5,"y":1.024},{"p":"c","s":"RM","x":-5.25,"y":1.022},{"p":"c","s":"RM","x":-5,"y":1.02},{"p":"c","s":"RM","x":-4.75,"y":1.017},{"p":"c","s":"RM","x":-4.5,"y":1.014},{"p":"c","s":"RM","x":-4.25,"y":1.011},{"p":"c","s":"RM","x":-4,"y":1.008},{"p":"c","s":"RM","x":-3.75,"y":1.006},{"p":"c","s":"RM","x":-3.5,"y":1.004},{"p":"c","s":"RM","x":-3.25,"y":1.001},{"p":"c","s":"RM","x":-3,"y":0.999},{"p":"c","s":"RM","x":-2.75,"y":0.998},{"p":"c","s":"RM","x":-2.6,"y":0.997},{"p":"c","s":"RM","x":-2.5,"y":1.014},{"p":"c","s":"RM","x":-2.42,"y":1.048},{"p":"c","s":"RM","x":-2.35,"y":1.088},{"p":"c","s":"RM","x":-2.25,"y":1.112},{"p":"c","s":"RM","x":-2.15,"y":1.126},{"p":"c","s":"RM","x":-2.05,"y":1.132},{"p":"c","s":"RM","x":-1.95,"y":1.14},{"p":"c","s":"RM","x":-1.85,"y":1.15},{"p":"c","s":"RM","x":-1.75,"y":1.162},{"p":"c","s":"RM","x":-1.65,"y":1.173},{"p":"c","s":"RM","x":-1.55,"y":1.184},{"p":"c","s":"RM","x":-1.45,"y":1.195},{"p":"c","s":"RM","x":-1.35,"y":1.207},{"p":"c","s":"RM","x":-1.25,"y":1.218},{"p":"c","s":"RM","x":-1.15,"y":1.229},{"p":"c","s":"RM","x":-1.05,"y":1.238},{"p":"c","s":"RM","x":-0.95,"y":1.241},{"p":"c","s":"RM","x":-0.87,"y":1.225},{"p":"c","s":"RM","x":-0.8,"y":1.195},{"p":"c","s":"RM","x":-0.72,"y":1.156},{"p":"c","s":"RM","x":-0.64,"y":1.105},{"p":"c","s":"RM","x":-0.56,"y":1.065},{"p":"c","s":"RM","x":-0.5,"y":1.03},{"p":"c","s":"RM","x":-0.44,"y":0.97},{"p":"c","s":"RM","x":-0.38,"y":0.9},{"p":"c","s":"RM","x":-0.32,"y":0.84},{"p":"c","s":"RM","x":-0.26,"y":0.793},{"p":"c","s":"RM","x":-0.18,"y":0.745},{"p":"c","s":"RM","x":-0.1,"y":0.69},{"p":"c","s":"RM","x":-0.02,"y":0.68},{"p":"c","s":"RM","x":0.06,"y":0.77},{"p":"c","s":"RM","x":0.16,"y":0.81},{"p":"c","s":"RM","x":0.26,"y":0.832},{"p":"c","s":"RM","x":0.36,"y":0.861},{"p":"c","s":"RM","x":0.46,"y":0.895},{"p":"c","s":"RM","x":0.54,"y":0.94},{"p":"c","s":"RM","x":0.61,"y":1.003},{"p":"c","s":"RM","x":0.68,"y":1.042},{"p":"c","s":"RM","x":0.76,"y":1.071},{"p":"c","s":"RM","x":0.84,"y":1.058},{"p":"c","s":"RM","x":0.92,"y":1.025},{"p":"c","s":"RM","x":1,"y":0.985},{"p":"c","s":"RM","x":1.08,"y":0.95},{"p":"c","s":"RM","x":1.16,"y":0.925},{"p":"c","s":"RM","x":1.22,"y":0.912},{"p":"c","s":"RM","x":1.3,"y":0.95},{"p":"c","s":"RM","x":1.38,"y":0.995},{"p":"c","s":"RM","x":1.46,"y":1.04},{"p":"c","s":"RM","x":1.54,"y":1.065},{"p":"c","s":"RM","x":1.62,"y":1.071},{"p":"c","s":"RM","x":1.7,"y":1.035},{"p":"c","s":"RM","x":1.78,"y":1.005},{"p":"c","s":"RM","x":1.86,"y":0.98},{"p":"c","s":"RM","x":1.94,"y":0.955},{"p":"c","s":"RM","x":2.02,"y":0.925},{"p":"c","s":"RM","x":2.1,"y":0.89},{"p":"c","s":"RM","x":2.18,"y":0.855},{"p":"c","s":"RM","x":2.26,"y":0.82},{"p":"c","s":"RM","x":2.34,"y":0.792},{"p":"c","s":"RM","x":2.42,"y":0.776},{"p":"c","s":"RM","x":2.55,"y":0.76},{"p":"c","s":"RM","x":2.75,"y":0.753},{"p":"c","s":"RM","x":2.95,"y":0.758},{"p":"c","s":"RM","x":3.15,"y":0.764},{"p":"c","s":"RM","x":3.35,"y":0.764},{"p":"c","s":"RM","x":3.55,"y":0.76},{"p":"c","s":"RM","x":3.75,"y":0.764},{"p":"c","s":"RM","x":3.95,"y":0.776},{"p":"c","s":"RM","x":4.15,"y":0.77},{"p":"c","s":"RM","x":4.35,"y":0.77},{"p":"c","s":"RM","x":4.55,"y":0.764},{"p":"c","s":"RM","x":4.75,"y":0.768},{"p":"c","s":"RM","x":4.95,"y":0.77},{"p":"c","s":"RM","x":5.15,"y":0.776},{"p":"c","s":"RM","x":5.35,"y":0.781},{"p":"c","s":"RM","x":5.55,"y":0.787},{"p":"c","s":"RM","x":5.75,"y":0.798},{"p":"c","s":"RM","x":5.95,"y":0.804},{"p":"c","s":"RM","x":6.15,"y":0.81},{"p":"c","s":"RM","x":6.35,"y":0.79},{"p":"c","s":"RM","x":6.55,"y":0.787},{"p":"c","s":"RM","x":6.75,"y":0.795},{"p":"c","s":"RM","x":7,"y":0.8},
{"p":"c","s":"SRM","x":-6.92,"y":0.997},{"p":"c","s":"SRM","x":-6.62,"y":0.996},{"p":"c","s":"SRM","x":-6.32,"y":0.995},{"p":"c","s":"SRM","x":-6.02,"y":0.995},{"p":"c","s":"SRM","x":-5.72,"y":0.991},{"p":"c","s":"SRM","x":-5.42,"y":0.988},{"p":"c","s":"SRM","x":-5.12,"y":0.983},{"p":"c","s":"SRM","x":-4.82,"y":0.979},{"p":"c","s":"SRM","x":-4.52,"y":0.974},{"p":"c","s":"SRM","x":-4.22,"y":0.97},{"p":"c","s":"SRM","x":-3.92,"y":0.965},{"p":"c","s":"SRM","x":-3.62,"y":0.96},{"p":"c","s":"SRM","x":-3.32,"y":0.954},{"p":"c","s":"SRM","x":-3.02,"y":0.952},{"p":"c","s":"SRM","x":-2.72,"y":0.949},{"p":"c","s":"SRM","x":-2.47,"y":0.949},{"p":"c","s":"SRM","x":-2.4,"y":0.985},{"p":"c","s":"SRM","x":-2.33,"y":1.02},{"p":"c","s":"SRM","x":-2.23,"y":1.065},{"p":"c","s":"SRM","x":-2.13,"y":1.031},{"p":"c","s":"SRM","x":-2.03,"y":0.98},{"p":"c","s":"SRM","x":-1.95,"y":0.983},{"p":"c","s":"SRM","x":-1.88,"y":0.99},{"p":"c","s":"SRM","x":-1.8,"y":1.003},{"p":"c","s":"SRM","x":-1.72,"y":1.025},{"p":"c","s":"SRM","x":-1.62,"y":1.054},{"p":"c","s":"SRM","x":-1.53,"y":1.088},{"p":"c","s":"SRM","x":-1.42,"y":1.128},{"p":"c","s":"SRM","x":-1.3,"y":1.162},{"p":"c","s":"SRM","x":-1.18,"y":1.19},{"p":"c","s":"SRM","x":-1.05,"y":1.207},{"p":"c","s":"SRM","x":-0.92,"y":1.19},{"p":"c","s":"SRM","x":-0.8,"y":1.156},{"p":"c","s":"SRM","x":-0.7,"y":1.11},{"p":"c","s":"SRM","x":-0.6,"y":1.054},{"p":"c","s":"SRM","x":-0.5,"y":0.997},{"p":"c","s":"SRM","x":-0.44,"y":0.935},{"p":"c","s":"SRM","x":-0.37,"y":0.84},{"p":"c","s":"SRM","x":-0.29,"y":0.759},{"p":"c","s":"SRM","x":-0.19,"y":0.679},{"p":"c","s":"SRM","x":-0.09,"y":0.645},{"p":"c","s":"SRM","x":0.01,"y":0.651},{"p":"c","s":"SRM","x":0.08,"y":0.719},{"p":"c","s":"SRM","x":0.18,"y":0.759},{"p":"c","s":"SRM","x":0.31,"y":0.81},{"p":"c","s":"SRM","x":0.41,"y":0.838},{"p":"c","s":"SRM","x":0.51,"y":0.884},{"p":"c","s":"SRM","x":0.61,"y":0.946},{"p":"c","s":"SRM","x":0.71,"y":1.02},{"p":"c","s":"SRM","x":0.81,"y":1.054},{"p":"c","s":"SRM","x":0.91,"y":1.026},{"p":"c","s":"SRM","x":0.98,"y":0.98},{"p":"c","s":"SRM","x":1.06,"y":0.952},{"p":"c","s":"SRM","x":1.16,"y":0.906},{"p":"c","s":"SRM","x":1.24,"y":0.884},{"p":"c","s":"SRM","x":1.34,"y":0.929},{"p":"c","s":"SRM","x":1.44,"y":0.991},{"p":"c","s":"SRM","x":1.54,"y":1.054},{"p":"c","s":"SRM","x":1.64,"y":1.065},{"p":"c","s":"SRM","x":1.74,"y":1.026},{"p":"c","s":"SRM","x":1.84,"y":0.997},{"p":"c","s":"SRM","x":1.95,"y":0.969},{"p":"c","s":"SRM","x":2.05,"y":0.929},{"p":"c","s":"SRM","x":2.15,"y":0.895},{"p":"c","s":"SRM","x":2.27,"y":0.85},{"p":"c","s":"SRM","x":2.37,"y":0.81},{"p":"c","s":"SRM","x":2.47,"y":0.787},{"p":"c","s":"SRM","x":2.62,"y":0.781},{"p":"c","s":"SRM","x":2.77,"y":0.793},{"p":"c","s":"SRM","x":2.92,"y":0.81},{"p":"c","s":"SRM","x":3.07,"y":0.806},{"p":"c","s":"SRM","x":3.22,"y":0.804},{"p":"c","s":"SRM","x":3.42,"y":0.793},{"p":"c","s":"SRM","x":3.62,"y":0.787},{"p":"c","s":"SRM","x":3.82,"y":0.793},{"p":"c","s":"SRM","x":4.02,"y":0.798},{"p":"c","s":"SRM","x":4.22,"y":0.793},{"p":"c","s":"SRM","x":4.42,"y":0.798},{"p":"c","s":"SRM","x":4.62,"y":0.793},{"p":"c","s":"SRM","x":4.78,"y":0.806},{"p":"c","s":"SRM","x":4.93,"y":0.815},{"p":"c","s":"SRM","x":5.13,"y":0.793},{"p":"c","s":"SRM","x":5.33,"y":0.787},{"p":"c","s":"SRM","x":5.53,"y":0.793},{"p":"c","s":"SRM","x":5.73,"y":0.798},{"p":"c","s":"SRM","x":5.93,"y":0.806},{"p":"c","s":"SRM","x":6.08,"y":0.81},{"p":"c","s":"SRM","x":6.23,"y":0.827},{"p":"c","s":"SRM","x":6.38,"y":0.798},{"p":"c","s":"SRM","x":6.55,"y":0.79},{"p":"c","s":"SRM","x":6.75,"y":0.8},{"p":"c","s":"SRM","x":6.9,"y":0.805}
],
"terrain": [
{"p":"a","t":"dash","x":-7,"y":0.955},{"p":"a","t":"dash","x":-2.45,"y":0.955},{"p":"a","t":"dash","x":-2.2,"y":0.972},{"p":"a","t":"dash","x":-2,"y":0.983},{"p":"a","t":"dash","x":-1.6,"y":0.986},{"p":"a","t":"dash","x":-1.05,"y":0.99},{"p":"a","t":"dash","x":-0.7,"y":0.985},{"p":"a","t":"dash","x":-0.45,"y":0.981},{"p":"a","t":"dash","x":-0.2,"y":0.987},{"p":"a","t":"dash","x":0,"y":0.985},{"p":"a","t":"dash","x":0.3,"y":0.975},{"p":"a","t":"dash","x":0.62,"y":0.959},{"p":"a","t":"dash","x":1,"y":0.975},{"p":"a","t":"dash","x":1.4,"y":0.99},{"p":"a","t":"dash","x":1.8,"y":0.978},{"p":"a","t":"dash","x":2.2,"y":0.965},{"p":"a","t":"dash","x":2.45,"y":0.956},{"p":"a","t":"dash","x":7,"y":0.955},
{"p":"a","t":"ground","x":-2.4,"y":0.9},{"p":"a","t":"ground","x":-2.2,"y":0.912},{"p":"a","t":"ground","x":-2,"y":0.921},{"p":"a","t":"ground","x":-1.8,"y":0.922},{"p":"a","t":"ground","x":-1.5,"y":0.926},{"p":"a","t":"ground","x":-1.2,"y":0.928},{"p":"a","t":"ground","x":-1,"y":0.932},{"p":"a","t":"ground","x":-0.7,"y":0.928},{"p":"a","t":"ground","x":-0.45,"y":0.922},{"p":"a","t":"ground","x":-0.2,"y":0.929},{"p":"a","t":"ground","x":0.05,"y":0.927},{"p":"a","t":"ground","x":0.35,"y":0.918},{"p":"a","t":"ground","x":0.62,"y":0.903},{"p":"a","t":"ground","x":1,"y":0.919},{"p":"a","t":"ground","x":1.45,"y":0.933},{"p":"a","t":"ground","x":2,"y":0.918},{"p":"a","t":"ground","x":2.45,"y":0.9},
{"p":"b","t":"dash","x":-7,"y":0.786},{"p":"b","t":"dash","x":-2.5,"y":0.786},{"p":"b","t":"dash","x":-2.1,"y":0.834},{"p":"b","t":"dash","x":-1.9,"y":0.82},{"p":"b","t":"dash","x":-1.7,"y":0.817},{"p":"b","t":"dash","x":-1.3,"y":0.81},{"p":"b","t":"dash","x":-1,"y":0.805},{"p":"b","t":"dash","x":-0.55,"y":0.796},{"p":"b","t":"dash","x":0,"y":0.788},{"p":"b","t":"dash","x":0.4,"y":0.805},{"p":"b","t":"dash","x":0.8,"y":0.801},{"p":"b","t":"dash","x":1.1,"y":0.799},{"p":"b","t":"dash","x":1.7,"y":0.788},{"p":"b","t":"dash","x":2.15,"y":0.807},{"p":"b","t":"dash","x":2.5,"y":0.786},{"p":"b","t":"dash","x":7,"y":0.786},
{"p":"b","t":"ground","x":-2.52,"y":0.7},{"p":"b","t":"ground","x":-2.1,"y":0.743},{"p":"b","t":"ground","x":-1.9,"y":0.731},{"p":"b","t":"ground","x":-1.5,"y":0.725},{"p":"b","t":"ground","x":-1,"y":0.715},{"p":"b","t":"ground","x":-0.85,"y":0.716},{"p":"b","t":"ground","x":-0.3,"y":0.707},{"p":"b","t":"ground","x":0,"y":0.7},{"p":"b","t":"ground","x":0.36,"y":0.713},{"p":"b","t":"ground","x":0.96,"y":0.711},{"p":"b","t":"ground","x":1.2,"y":0.703},{"p":"b","t":"ground","x":1.76,"y":0.701},{"p":"b","t":"ground","x":2.15,"y":0.714},{"p":"b","t":"ground","x":2.5,"y":0.7},
{"p":"c","t":"dash","x":-7,"y":0.71},{"p":"c","t":"dash","x":-2.45,"y":0.71},{"p":"c","t":"dash","x":-2.2,"y":0.77},{"p":"c","t":"dash","x":-1.95,"y":0.815},{"p":"c","t":"dash","x":-1.7,"y":0.806},{"p":"c","t":"dash","x":-1.3,"y":0.779},{"p":"c","t":"dash","x":-0.8,"y":0.753},{"p":"c","t":"dash","x":-0.4,"y":0.742},{"p":"c","t":"dash","x":-0.24,"y":0.736},{"p":"c","t":"dash","x":0.06,"y":0.725},{"p":"c","t":"dash","x":0.4,"y":0.738},{"p":"c","t":"dash","x":0.76,"y":0.753},{"p":"c","t":"dash","x":1.16,"y":0.734},{"p":"c","t":"dash","x":1.56,"y":0.759},{"p":"c","t":"dash","x":1.97,"y":0.742},{"p":"c","t":"dash","x":2.37,"y":0.713},{"p":"c","t":"dash","x":2.5,"y":0.71},{"p":"c","t":"dash","x":7,"y":0.71},
{"p":"c","t":"ground","x":-2.45,"y":0.6},{"p":"c","t":"ground","x":-2.2,"y":0.657},{"p":"c","t":"ground","x":-1.95,"y":0.703},{"p":"c","t":"ground","x":-1.75,"y":0.702},{"p":"c","t":"ground","x":-1.6,"y":0.696},{"p":"c","t":"ground","x":-1.3,"y":0.67},{"p":"c","t":"ground","x":-0.9,"y":0.653},{"p":"c","t":"ground","x":-0.6,"y":0.643},{"p":"c","t":"ground","x":-0.3,"y":0.628},{"p":"c","t":"ground","x":-0.04,"y":0.611},{"p":"c","t":"ground","x":0.46,"y":0.62},{"p":"c","t":"ground","x":0.96,"y":0.645},{"p":"c","t":"ground","x":1.16,"y":0.62},{"p":"c","t":"ground","x":1.61,"y":0.648},{"p":"c","t":"ground","x":1.97,"y":0.628},{"p":"c","t":"ground","x":2.37,"y":0.6}
],
"notes": [
{"p":"a","k":"inflow","label":"Inflow","x":-6.84,"y":1.248},{"p":"a","k":"ground","label":"1.0 m above the ground","x":-6.84,"y":0.936},
{"p":"b","k":"inflow","label":"Inflow","x":-6.8,"y":1.223},{"p":"b","k":"ground","label":"1.0 m above the ground","x":-6.8,"y":0.866},
{"p":"c","k":"inflow","label":"Inflow","x":-6.74,"y":1.306},{"p":"c","k":"ground","label":"1.0 m above the ground","x":-6.9,"y":0.846}
],
"arrows": [
{"p":"a","x":-5.16,"x2":-4.35,"xh":-4.27,"y":1.246},
{"p":"b","x":-5.16,"x2":-4.3,"xh":-4.22,"y":1.219},
{"p":"c","x":-5.16,"x2":-4.3,"xh":-4.22,"y":1.294}
]
},
"vconcat": [
{
 "width": 463, "height": 235,
 "layer": [
  {"data": {"name": "terrain"}, "transform": [{"filter": "datum.p === 'a' && datum.t === 'dash'"}], "mark": {"type": "line", "stroke": "#f04040", "strokeWidth": 1, "strokeDash": [4, 3]},
   "encoding": {"x": {"field": "x", "type": "quantitative", "scale": {"domain": [-7, 7], "nice": false, "zero": false}, "axis": {"values": [-7,-6,-5,-4,-3,-2,-1,0,1,2,3,4,5,6,7], "tickCount": 30, "format": "d", "labelOverlap": false, "titleLineHeight": 27, "title": ["Relative postion along line L (m)", "(a)"]}},
                "y": {"field": "y", "type": "quantitative", "scale": {"domain": [0.9, 1.3], "nice": false, "zero": false}, "axis": {"values": [0.9,0.95,1,1.05,1.1,1.15,1.2,1.25,1.3], "tickCount": 30, "labelOverlap": false, "labelExpr": "round(datum.value*100) % 10 === 0 ? format(datum.value, '.1f') : ''", "title": "Uₙₒᵣ"}}}},
  {"data": {"name": "terrain"}, "transform": [{"filter": "datum.p === 'a' && datum.t === 'ground'"}], "mark": {"type": "line", "stroke": "black", "strokeWidth": 1.3},
   "encoding": {"x": {"field": "x", "type": "quantitative"}, "y": {"field": "y", "type": "quantitative"}}},
  {"data": {"name": "series"}, "transform": [{"filter": "datum.p === 'a'"}], "mark": {"type": "line", "strokeWidth": 1.2},
   "encoding": {"x": {"field": "x", "type": "quantitative"}, "y": {"field": "y", "type": "quantitative"},
     "stroke": {"field": "s", "type": "nominal", "scale": {"domain": ["Uniform", "SRM", "RM", "~"], "range": ["#f02020", "#1f1fe0", "#30a8a8", "#000000"]}, "legend": {"orient": "none", "legendX": 331.5, "legendY": 19, "title": null, "values": ["Uniform", "SRM", "RM"], "labelFontSize": 16, "labelOpacity": 0, "symbolType": "M-3.6,0H-1M1,0H3.6", "symbolSize": 100, "symbolStrokeWidth": 1.3, "labelOffset": 15, "rowPadding": 3.7, "padding": 0}}}},
  {"data": {"name": "series"}, "transform": [{"filter": "datum.p === 'a'"}], "mark": {"type": "point", "filled": false, "size": 90, "strokeWidth": 1.3},
   "encoding": {"x": {"field": "x", "type": "quantitative"}, "y": {"field": "y", "type": "quantitative"},
     "color": {"field": "s", "type": "nominal", "scale": {"domain": ["Uniform", "SRM", "RM"], "range": ["#f02020", "#1f1fe0", "#30a8a8"]}, "legend": {"orient": "none", "legendX": 331.5, "legendY": 19, "title": null, "labelFontSize": 16, "labelColor": "black", "symbolSize": 100, "symbolStrokeWidth": 1.3, "labelOffset": 15, "rowPadding": 3.7, "padding": 0}},
     "shape": {"field": "s", "type": "nominal", "scale": {"domain": ["Uniform", "SRM", "RM"], "range": ["square", "circle", "triangle-up"]}, "legend": {"orient": "none", "legendX": 331.5, "legendY": 19, "title": null, "labelFontSize": 16, "labelColor": "black", "symbolSize": 100, "symbolStrokeWidth": 1.3, "labelOffset": 15, "rowPadding": 3.7, "padding": 0}}}},
  {"data": {"name": "notes"}, "transform": [{"filter": "datum.p === 'a' && datum.k === 'inflow'"}], "mark": {"type": "text", "align": "left", "baseline": "middle", "fontSize": 18.5, "color": "black"},
   "encoding": {"x": {"field": "x", "type": "quantitative"}, "y": {"field": "y", "type": "quantitative"}, "text": {"field": "label"}}},
  {"data": {"name": "notes"}, "transform": [{"filter": "datum.p === 'a' && datum.k === 'ground'"}], "mark": {"type": "text", "align": "left", "baseline": "middle", "fontSize": 16, "color": "black"},
   "encoding": {"x": {"field": "x", "type": "quantitative"}, "y": {"field": "y", "type": "quantitative"}, "text": {"field": "label"}}},
  {"data": {"name": "arrows"}, "transform": [{"filter": "datum.p === 'a'"}], "mark": {"type": "rule", "color": "black", "strokeWidth": 1.5},
   "encoding": {"x": {"field": "x", "type": "quantitative"}, "x2": {"field": "x2"}, "y": {"field": "y", "type": "quantitative"}}},
  {"data": {"name": "arrows"}, "transform": [{"filter": "datum.p === 'a'"}], "mark": {"type": "point", "shape": "M-1,-0.4L1,0L-1,0.4Z", "filled": true, "color": "black", "size": 150, "opacity": 1},
   "encoding": {"x": {"field": "xh", "type": "quantitative"}, "y": {"field": "y", "type": "quantitative"}}}
 ]
},
{
 "width": 463, "height": 235,
 "layer": [
  {"data": {"name": "terrain"}, "transform": [{"filter": "datum.p === 'b' && datum.t === 'dash'"}], "mark": {"type": "line", "stroke": "#f04040", "strokeWidth": 1, "strokeDash": [4, 3]},
   "encoding": {"x": {"field": "x", "type": "quantitative", "scale": {"domain": [-7, 7], "nice": false, "zero": false}, "axis": {"values": [-7,-6,-5,-4,-3,-2,-1,0,1,2,3,4,5,6,7], "tickCount": 30, "format": "d", "labelOverlap": false, "titleLineHeight": 25, "title": ["Relative postion along line M (m)", "(b)"]}},
                "y": {"field": "y", "type": "quantitative", "scale": {"domain": [0.7, 1.3], "nice": false, "zero": false}, "axis": {"values": [0.7,0.8,0.9,1,1.1,1.2,1.3], "tickCount": 30, "labelOverlap": false, "labelExpr": "round(datum.value*10) % 2 === 1 ? format(datum.value, '.1f') : ''", "title": "Uₙₒᵣ"}}}},
  {"data": {"name": "terrain"}, "transform": [{"filter": "datum.p === 'b' && datum.t === 'ground'"}], "mark": {"type": "line", "stroke": "black", "strokeWidth": 1.3},
   "encoding": {"x": {"field": "x", "type": "quantitative"}, "y": {"field": "y", "type": "quantitative"}}},
  {"data": {"name": "series"}, "transform": [{"filter": "datum.p === 'b'"}], "mark": {"type": "line", "strokeWidth": 1.2},
   "encoding": {"x": {"field": "x", "type": "quantitative"}, "y": {"field": "y", "type": "quantitative"},
     "stroke": {"field": "s", "type": "nominal", "scale": {"domain": ["Uniform", "SRM", "RM", "~"], "range": ["#f02020", "#1f1fe0", "#30a8a8", "#000000"]}, "legend": {"orient": "none", "legendX": 341.5, "legendY": 12, "title": null, "values": ["Uniform", "SRM", "RM"], "labelFontSize": 16, "labelOpacity": 0, "symbolType": "M-3.6,0H-1M1,0H3.6", "symbolSize": 100, "symbolStrokeWidth": 1.3, "labelOffset": 15, "rowPadding": 1.6, "padding": 0}}}},
  {"data": {"name": "series"}, "transform": [{"filter": "datum.p === 'b'"}], "mark": {"type": "point", "filled": false, "size": 90, "strokeWidth": 1.3},
   "encoding": {"x": {"field": "x", "type": "quantitative"}, "y": {"field": "y", "type": "quantitative"},
     "color": {"field": "s", "type": "nominal", "scale": {"domain": ["Uniform", "SRM", "RM"], "range": ["#f02020", "#1f1fe0", "#30a8a8"]}, "legend": {"orient": "none", "legendX": 341.5, "legendY": 12, "title": null, "labelFontSize": 16, "labelColor": "black", "symbolSize": 100, "symbolStrokeWidth": 1.3, "labelOffset": 15, "rowPadding": 1.6, "padding": 0}},
     "shape": {"field": "s", "type": "nominal", "scale": {"domain": ["Uniform", "SRM", "RM"], "range": ["square", "circle", "triangle-up"]}, "legend": {"orient": "none", "legendX": 341.5, "legendY": 12, "title": null, "labelFontSize": 16, "labelColor": "black", "symbolSize": 100, "symbolStrokeWidth": 1.3, "labelOffset": 15, "rowPadding": 1.6, "padding": 0}}}},
  {"data": {"name": "notes"}, "transform": [{"filter": "datum.p === 'b' && datum.k === 'inflow'"}], "mark": {"type": "text", "align": "left", "baseline": "middle", "fontSize": 18.5, "color": "black"},
   "encoding": {"x": {"field": "x", "type": "quantitative"}, "y": {"field": "y", "type": "quantitative"}, "text": {"field": "label"}}},
  {"data": {"name": "notes"}, "transform": [{"filter": "datum.p === 'b' && datum.k === 'ground'"}], "mark": {"type": "text", "align": "left", "baseline": "middle", "fontSize": 16, "color": "black"},
   "encoding": {"x": {"field": "x", "type": "quantitative"}, "y": {"field": "y", "type": "quantitative"}, "text": {"field": "label"}}},
  {"data": {"name": "arrows"}, "transform": [{"filter": "datum.p === 'b'"}], "mark": {"type": "rule", "color": "black", "strokeWidth": 1.5},
   "encoding": {"x": {"field": "x", "type": "quantitative"}, "x2": {"field": "x2"}, "y": {"field": "y", "type": "quantitative"}}},
  {"data": {"name": "arrows"}, "transform": [{"filter": "datum.p === 'b'"}], "mark": {"type": "point", "shape": "M-1,-0.4L1,0L-1,0.4Z", "filled": true, "color": "black", "size": 150, "opacity": 1},
   "encoding": {"x": {"field": "xh", "type": "quantitative"}, "y": {"field": "y", "type": "quantitative"}}}
 ]
},
{
 "width": 463, "height": 235,
 "layer": [
  {"data": {"name": "terrain"}, "transform": [{"filter": "datum.p === 'c' && datum.t === 'dash'"}], "mark": {"type": "line", "stroke": "#f04040", "strokeWidth": 1, "strokeDash": [4, 3]},
   "encoding": {"x": {"field": "x", "type": "quantitative", "scale": {"domain": [-7, 7], "nice": false, "zero": false}, "axis": {"values": [-7,-6,-5,-4,-3,-2,-1,0,1,2,3,4,5,6,7], "tickCount": 30, "format": "d", "labelOverlap": false, "titleLineHeight": 26, "title": ["Relative postion along line R (m)", "(c)"]}},
                "y": {"field": "y", "type": "quantitative", "scale": {"domain": [0.6, 1.4], "nice": false, "zero": false}, "axis": {"values": [0.6,0.7,0.8,0.9,1,1.1,1.2,1.3,1.4], "tickCount": 30, "labelOverlap": false, "labelExpr": "round(datum.value*10) % 2 === 0 ? format(datum.value, '.1f') : ''", "title": "Uₙₒᵣ"}}}},
  {"data": {"name": "terrain"}, "transform": [{"filter": "datum.p === 'c' && datum.t === 'ground'"}], "mark": {"type": "line", "stroke": "black", "strokeWidth": 1.3},
   "encoding": {"x": {"field": "x", "type": "quantitative"}, "y": {"field": "y", "type": "quantitative"}}},
  {"data": {"name": "series"}, "transform": [{"filter": "datum.p === 'c'"}], "mark": {"type": "line", "strokeWidth": 1.2},
   "encoding": {"x": {"field": "x", "type": "quantitative"}, "y": {"field": "y", "type": "quantitative"},
     "stroke": {"field": "s", "type": "nominal", "scale": {"domain": ["Uniform", "SRM", "RM", "~"], "range": ["#f02020", "#1f1fe0", "#30a8a8", "#000000"]}, "legend": {"orient": "none", "legendX": 329, "legendY": 14, "title": null, "values": ["Uniform", "SRM", "RM"], "labelFontSize": 16, "labelOpacity": 0, "symbolType": "M-3.6,0H-1M1,0H3.6", "symbolSize": 100, "symbolStrokeWidth": 1.3, "labelOffset": 15, "rowPadding": 1.6, "padding": 0}}}},
  {"data": {"name": "series"}, "transform": [{"filter": "datum.p === 'c'"}], "mark": {"type": "point", "filled": false, "size": 90, "strokeWidth": 1.3},
   "encoding": {"x": {"field": "x", "type": "quantitative"}, "y": {"field": "y", "type": "quantitative"},
     "color": {"field": "s", "type": "nominal", "scale": {"domain": ["Uniform", "SRM", "RM"], "range": ["#f02020", "#1f1fe0", "#30a8a8"]}, "legend": {"orient": "none", "legendX": 329, "legendY": 14, "title": null, "labelFontSize": 16, "labelColor": "black", "symbolSize": 100, "symbolStrokeWidth": 1.3, "labelOffset": 15, "rowPadding": 1.6, "padding": 0}},
     "shape": {"field": "s", "type": "nominal", "scale": {"domain": ["Uniform", "SRM", "RM"], "range": ["square", "circle", "triangle-up"]}, "legend": {"orient": "none", "legendX": 329, "legendY": 14, "title": null, "labelFontSize": 16, "labelColor": "black", "symbolSize": 100, "symbolStrokeWidth": 1.3, "labelOffset": 15, "rowPadding": 1.6, "padding": 0}}}},
  {"data": {"name": "notes"}, "transform": [{"filter": "datum.p === 'c' && datum.k === 'inflow'"}], "mark": {"type": "text", "align": "left", "baseline": "middle", "fontSize": 18.5, "color": "black"},
   "encoding": {"x": {"field": "x", "type": "quantitative"}, "y": {"field": "y", "type": "quantitative"}, "text": {"field": "label"}}},
  {"data": {"name": "notes"}, "transform": [{"filter": "datum.p === 'c' && datum.k === 'ground'"}], "mark": {"type": "text", "align": "left", "baseline": "middle", "fontSize": 16, "color": "black"},
   "encoding": {"x": {"field": "x", "type": "quantitative"}, "y": {"field": "y", "type": "quantitative"}, "text": {"field": "label"}}},
  {"data": {"name": "arrows"}, "transform": [{"filter": "datum.p === 'c'"}], "mark": {"type": "rule", "color": "black", "strokeWidth": 1.5},
   "encoding": {"x": {"field": "x", "type": "quantitative"}, "x2": {"field": "x2"}, "y": {"field": "y", "type": "quantitative"}}},
  {"data": {"name": "arrows"}, "transform": [{"filter": "datum.p === 'c'"}], "mark": {"type": "point", "shape": "M-1,-0.4L1,0L-1,0.4Z", "filled": true, "color": "black", "size": 150, "opacity": 1},
   "encoding": {"x": {"field": "xh", "type": "quantitative"}, "y": {"field": "y", "type": "quantitative"}}}
 ]
}
]
}
